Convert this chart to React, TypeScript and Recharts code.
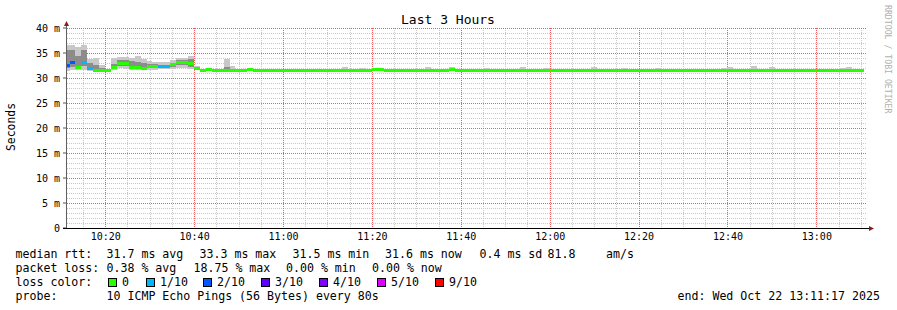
import React from "react";
import { ComposedChart, Area, XAxis, YAxis, CartesianGrid } from "recharts";

const WIDTH = 897;
const HEIGHT = 310;
const MONO = '"DejaVu Sans Mono", monospace';

// 3 hour window ending 13:11:17, one step every 80s
const windowStart = "10:11:17";
const windowMinutes = 180;
const firstStepSec = -6; // centre of the first, partly hidden step
const stepSec = 80;
const msMax = 40;

const timeLabels = ["10:20", "10:40", "11:00", "11:20", "11:40", "12:00", "12:20", "12:40", "13:00"];
const msTicks = [0, 5, 10, 15, 20, 25, 30, 35, 40];

// median rtt per step (ms)
const medianRtt = [
  32.6, 33.2, 32.2, 33.1, 32.0, 31.6, 31.6, 31.6, 32.1, 33.0,
  33.0, 32.1, 32.1, 32.0, 32.4, 32.4, 32.3, 32.3, 32.7, 33.1,
  33.1, 32.9, 31.9, 31.5, 31.7, 31.5, 31.6, 31.6, 31.6, 31.6,
  31.6, 31.7, 31.6, 31.6, 31.6, 31.6, 31.6, 31.6, 31.6, 31.6,
  31.6, 31.6, 31.6, 31.6, 31.6, 31.6, 31.6, 31.5, 31.6, 31.6,
  31.5, 31.6, 31.7, 31.7, 31.6, 31.6, 31.6, 31.6, 31.6, 31.6,
  31.6, 31.5, 31.6, 31.6, 31.6, 31.7, 31.6, 31.6, 31.6, 31.6,
  31.6, 31.6, 31.6, 31.5, 31.6, 31.6, 31.6, 31.6, 31.6, 31.6,
  31.6, 31.6, 31.6, 31.6, 31.6, 31.6, 31.6, 31.6, 31.6, 31.6,
  31.6, 31.6, 31.6, 31.6, 31.6, 31.6, 31.6, 31.6, 31.6, 31.6,
  31.6, 31.6, 31.6, 31.6, 31.6, 31.6, 31.6, 31.6, 31.6, 31.6,
  31.6, 31.6, 31.6, 31.6, 31.6, 31.5, 31.6, 31.6, 31.6, 31.6,
  31.6, 31.6, 31.6, 31.6, 31.6, 31.6, 31.5, 31.6, 31.6, 31.6,
  31.6, 31.6, 31.6, 31.6, 31.6,
];

// smoke: spread of the 10 pings per step (ms)
const smokeMax = [
  36.6, 36.6, 36.3, 36.6, 33.8, 34.1, 32.7, 31.9, 34.0, 34.3,
  34.3, 34.1, 34.5, 33.8, 33.5, 33.3, 33.3, 33.3, 33.6, 34.0,
  34.0, 34.5, 32.5, 31.8, 31.9, 31.8, 31.8, 33.9, 32.4, 31.8,
  31.8, 31.9, 31.8, 31.8, 31.8, 31.8, 31.8, 31.8, 31.8, 31.8,
  31.8, 31.8, 31.8, 31.8, 31.8, 31.8, 31.8, 32.2, 31.8, 31.8,
  32.1, 31.8, 31.9, 32.1, 31.8, 31.8, 31.8, 31.8, 31.8, 31.8,
  31.8, 32.3, 31.8, 31.8, 31.8, 32.2, 31.8, 31.8, 31.8, 31.8,
  31.8, 32.1, 31.8, 31.8, 31.8, 31.8, 31.8, 32.2, 31.8, 31.8,
  31.8, 32.1, 31.8, 31.8, 31.8, 31.8, 31.8, 31.8, 31.8, 32.3,
  31.8, 31.8, 31.8, 31.8, 32.1, 31.8, 31.8, 31.8, 31.8, 31.8,
  32.1, 31.8, 31.8, 31.8, 31.8, 31.8, 31.8, 31.8, 31.8, 31.8,
  31.8, 32.1, 32.3, 31.8, 31.8, 31.8, 32.5, 31.8, 31.8, 32.3,
  31.8, 31.8, 31.8, 31.8, 31.8, 31.8, 31.8, 31.8, 31.8, 31.8,
  31.8, 32.1, 32.3, 31.8, 31.8,
];
const smokeHigh = [
  35.6, 35.6, 34.5, 35.6, 33.0, 32.6, 32.0, 31.7, 32.8, 33.7,
  33.6, 33.4, 33.2, 33.0, 32.9, 32.9, 32.7, 32.7, 33.1, 33.6,
  33.6, 33.8, 32.2, 31.6, 31.8, 31.7, 31.7, 32.3, 31.9, 31.7,
  31.7, 31.7, 31.7, 31.7, 31.7, 31.7, 31.7, 31.7, 31.7, 31.7,
  31.7, 31.7, 31.7, 31.7, 31.7, 31.7, 31.7, 31.7, 31.7, 31.7,
  31.7, 31.7, 31.7, 31.7, 31.7, 31.7, 31.7, 31.7, 31.7, 31.7,
  31.7, 31.7, 31.7, 31.7, 31.7, 31.7, 31.7, 31.7, 31.7, 31.7,
  31.7, 31.7, 31.7, 31.7, 31.7, 31.7, 31.7, 31.7, 31.7, 31.7,
  31.7, 31.7, 31.7, 31.7, 31.7, 31.7, 31.7, 31.7, 31.7, 31.7,
  31.7, 31.7, 31.7, 31.7, 31.7, 31.7, 31.7, 31.7, 31.7, 31.7,
  31.7, 31.7, 31.7, 31.7, 31.7, 31.7, 31.7, 31.7, 31.7, 31.7,
  31.7, 31.7, 31.7, 31.7, 31.7, 31.7, 31.7, 31.7, 31.7, 31.7,
  31.7, 31.7, 31.7, 31.7, 31.7, 31.7, 31.7, 31.7, 31.7, 31.7,
  31.7, 31.7, 31.7, 31.7, 31.7,
];
const smokeLow = [
  32.0, 32.3, 32.0, 32.4, 31.7, 31.7, 31.6, 31.5, 31.9, 32.4,
  32.4, 32.0, 31.9, 31.9, 32.0, 32.0, 32.0, 32.0, 32.3, 32.6,
  32.6, 32.3, 31.7, 31.5, 31.6, 31.5, 31.5, 31.6, 31.5, 31.5,
  31.5, 31.5, 31.5, 31.5, 31.5, 31.5, 31.5, 31.5, 31.5, 31.5,
  31.5, 31.5, 31.5, 31.5, 31.5, 31.5, 31.5, 31.5, 31.5, 31.5,
  31.5, 31.5, 31.5, 31.5, 31.5, 31.5, 31.5, 31.5, 31.5, 31.5,
  31.5, 31.5, 31.5, 31.5, 31.5, 31.5, 31.5, 31.5, 31.5, 31.5,
  31.5, 31.5, 31.5, 31.5, 31.5, 31.5, 31.5, 31.5, 31.5, 31.5,
  31.5, 31.5, 31.5, 31.5, 31.5, 31.5, 31.5, 31.5, 31.5, 31.5,
  31.5, 31.5, 31.5, 31.5, 31.5, 31.5, 31.5, 31.5, 31.5, 31.5,
  31.5, 31.5, 31.5, 31.5, 31.5, 31.5, 31.5, 31.5, 31.5, 31.5,
  31.5, 31.5, 31.5, 31.5, 31.5, 31.5, 31.5, 31.5, 31.5, 31.5,
  31.5, 31.5, 31.5, 31.5, 31.5, 31.5, 31.5, 31.5, 31.5, 31.5,
  31.5, 31.5, 31.5, 31.5, 31.5,
];
const smokeMin = [
  31.5, 31.6, 31.7, 31.7, 31.5, 31.5, 31.5, 31.4, 31.7, 32.0,
  31.9, 31.7, 31.6, 31.6, 31.7, 31.7, 31.8, 31.8, 31.9, 32.0,
  32.0, 31.8, 31.6, 31.4, 31.5, 31.4, 31.4, 31.4, 31.4, 31.4,
  31.4, 31.4, 31.4, 31.4, 31.4, 31.4, 31.4, 31.4, 31.4, 31.4,
  31.4, 31.4, 31.4, 31.4, 31.4, 31.4, 31.4, 31.4, 31.4, 31.4,
  31.4, 31.4, 31.4, 31.4, 31.4, 31.4, 31.4, 31.4, 31.4, 31.4,
  31.4, 31.4, 31.4, 31.4, 31.4, 31.4, 31.4, 31.4, 31.4, 31.4,
  31.4, 31.4, 31.4, 31.4, 31.4, 31.4, 31.4, 31.4, 31.4, 31.4,
  31.4, 31.4, 31.4, 31.4, 31.4, 31.4, 31.4, 31.4, 31.4, 31.4,
  31.4, 31.4, 31.4, 31.4, 31.4, 31.4, 31.4, 31.4, 31.4, 31.4,
  31.4, 31.4, 31.4, 31.4, 31.4, 31.4, 31.4, 31.4, 31.4, 31.4,
  31.4, 31.4, 31.4, 31.4, 31.4, 31.4, 31.4, 31.4, 31.4, 31.4,
  31.4, 31.4, 31.4, 31.4, 31.4, 31.4, 31.4, 31.4, 31.4, 31.4,
  31.4, 31.4, 31.4, 31.4, 31.4,
];

// [step, lost pings of 10]
const lostPings: [number, number][] = [[0, 2], [1, 2], [3, 1], [4, 1], [16, 1], [17, 1]];

const lossLabels = ["0", "1/10", "2/10", "3/10", "4/10", "5/10", "9/10"];
const lossSteps = [0, 1, 2, 3, 4, 5, 9];
const lossColors = ["#26ff00", "#00b8ff", "#0059ff", "#5e00ff", "#7e00ff", "#dd00ff", "#ff0000"];
const lossLegendX = [108, 146, 203, 261, 319, 377, 435];

const statLines: { y: number; parts: [number, string][] }[] = [
  {
    y: 258,
    parts: [[15.5, "median rtt:"], [106.5, "31.7 ms avg"], [199.5, "33.3 ms max"], [292.5, "31.5 ms min"],
      [385, "31.6 ms now"], [479.5, "0.4 ms sd"], [547.5, "81.8"], [606, "am/s"]],
  },
  {
    y: 272,
    parts: [[15.5, "packet loss:"], [106.5, "0.38 % avg"], [193.5, "18.75 % max"], [286, "0.00 % min"], [372, "0.00 % now"]],
  },
  {
    y: 300,
    parts: [[15.5, "probe:"], [106.5, "10 ICMP Echo Pings (56 Bytes) every 80s"], [677.5, "end: Wed Oct 22 13:11:17 2025"]],
  },
];

const toMin = (clock: string) => {
  const [h, m, s = 0] = clock.split(":").map(Number);
  return h * 60 + m + s / 60;
};
const t0 = toMin(windowStart);
const tickValues = timeLabels.map((l) => toMin(l) - t0);

const lossIndex = (lost: number) => {
  let idx = 0;
  lossSteps.forEach((s, i) => {
    if (lost >= s) idx = i;
  });
  return idx;
};

// two rows per step (start and end) so every step is drawn flat
type Row = { [k: string]: number | number[] | null };
const rows: Row[] = [];
medianRtt.forEach((m, i) => {
  const lost = lostPings.find((l) => l[0] === i)?.[1] ?? 0;
  const idx = lossIndex(lost);
  const start = (firstStepSec + i * stepSec - stepSec / 2) / 60;
  [start, start + stepSec / 60].forEach((t) => {
    const row: Row = {
      t,
      smoke: [smokeMin[i], smokeMax[i]],
      core: [smokeLow[i], smokeHigh[i]],
    };
    lossColors.forEach((_c, k) => {
      row[`loss${k}`] = k === idx ? [m - 0.35, m + 0.25] : null;
    });
    rows.push(row);
  });
});

const minorMinutes: number[] = [];
for (let m = Math.ceil(t0 / 5) * 5; m <= t0 + windowMinutes; m += 5) {
  if (m % 20 !== 0) minorMinutes.push(m - t0);
}
const minorMs: number[] = [];
for (let v = 1; v < msMax; v++) if (v % 5 !== 0) minorMs.push(v);
const majorMs = msTicks.filter((v) => v > 0);

// grid positions inside the plot box (same linear domains as the axes), snapped to pixel centres
const gridY = (vals: number[]) => ({ offset }: any) =>
  vals.map((v) => Math.round(offset.top + offset.height * (1 - v / msMax)) + 0.5);
const gridX = (vals: number[]) => ({ offset }: any) =>
  vals.map((v) => Math.floor(offset.left + (offset.width * v) / windowMinutes) + 0.5);

const MINOR = "#c8c8c8";
const MAJOR = "#f25c5c";

export default function App() {
  return (
    <div style={{ position: "absolute", left: 0, top: 0, width: WIDTH, height: HEIGHT, background: "#fff" }}>
      <ComposedChart width={WIDTH} height={HEIGHT} data={rows} margin={{ top: 28, right: 30, bottom: 62, left: 7 }}>
        <CartesianGrid
          stroke={MINOR}
          strokeDasharray="1 1"
          horizontalCoordinatesGenerator={gridY(minorMs)}
          verticalCoordinatesGenerator={gridX(minorMinutes)}
        />
        <CartesianGrid
          stroke={MAJOR}
          strokeDasharray="1 1"
          horizontalCoordinatesGenerator={gridY(majorMs)}
          verticalCoordinatesGenerator={gridX(tickValues)}
        />
        <XAxis
          type="number"
          dataKey="t"
          domain={[0, windowMinutes]}
          allowDataOverflow
          ticks={tickValues}
          interval={0}
          tickFormatter={(_v: number, i: number) => timeLabels[i]}
          axisLine={false}
          tickLine={false}
          tickSize={3}
          tickMargin={2}
          height={20}
          tick={{ fontSize: 10, fontFamily: MONO, fill: "#000" }}
        />
        <YAxis
          type="number"
          domain={[0, msMax]}
          allowDataOverflow
          ticks={msTicks}
          interval={0}
          width={60}
          axisLine={false}
          tickLine={{ stroke: "#555" }}
          tickSize={4}
          tickMargin={3}
          tickFormatter={(v: number) => (v === 0 ? "0" : `${v} m`)}
          tick={{ fontSize: 10, fontFamily: MONO, fill: "#000" }}
        />
        <Area type="linear" dataKey="smoke" stroke="none" fill="#c8c8c8" fillOpacity={1} shapeRendering="crispEdges" isAnimationActive={false} />
        <Area type="linear" dataKey="core" stroke="none" fill="#8c8c8c" fillOpacity={1} shapeRendering="crispEdges" isAnimationActive={false} />
        {lossColors.map((c, k) => (
          <Area
            key={c}
            type="linear"
            dataKey={`loss${k}`}
            stroke="none"
            fill={c}
            fillOpacity={1}
            shapeRendering="crispEdges"
            isAnimationActive={false}
          />
        ))}
      </ComposedChart>
      <svg
        width={WIDTH}
        height={HEIGHT}
        style={{ position: "absolute", left: 0, top: 0, pointerEvents: "none" }}
        fontFamily={MONO}
      >
        <text x={448} y={24} textAnchor="middle" fontSize={13} fill="#000">
          Last 3 Hours
        </text>
        <text transform="translate(15,127) rotate(-90)" textAnchor="middle" fontSize={11.4} fill="#000">
          Seconds
        </text>
        <text transform="translate(884.5,5) rotate(90)" fontSize={8.2} fill="#b0b0b0">
          RRDTOOL / TOBI OETIKER
        </text>
        <line x1={66.5} y1={228} x2={66.5} y2={24} stroke="#606060" />
        <polygon points="64,26 69,26 66.5,21" fill="#8b1a1a" />
        <line x1={63} y1={228.5} x2={870} y2={228.5} stroke="#000" />
        <polygon points="869,226 869,231 874,228.5" fill="#8b1a1a" />
        {statLines.map((line) =>
          line.parts.map(([x, s]) => (
            <text key={`${line.y}-${x}`} x={x} y={line.y} fontSize={11.6} fill="#000" xmlSpace="preserve">
              {s}
            </text>
          ))
        )}
        <text x={15.5} y={286} fontSize={11.6} fill="#000">
          loss color:
        </text>
        {lossLabels.map((l, i) => (
          <g key={l}>
            <rect x={lossLegendX[i] + 0.5} y={278.5} width={8} height={8} fill={lossColors[i]} stroke="#000" />
            <text x={lossLegendX[i] + 14} y={286} fontSize={11.6} fill="#000">
              {l}
            </text>
          </g>
        ))}
      </svg>
    </div>
  );
}
